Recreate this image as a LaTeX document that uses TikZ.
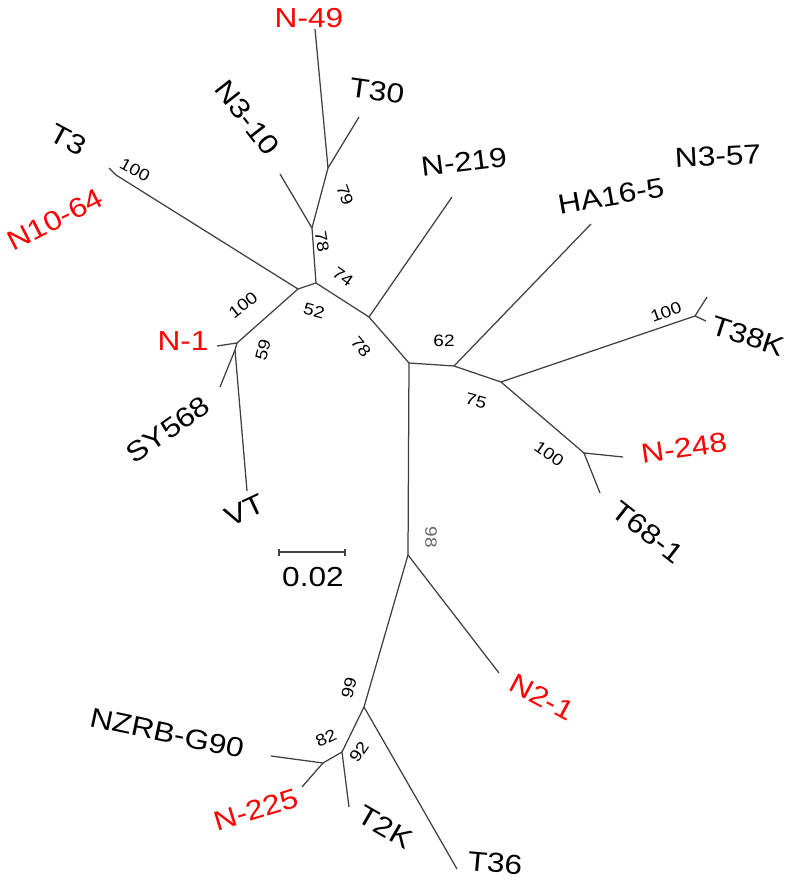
\documentclass[tikz,border=0pt]{standalone}
\usepackage{fontspec}
\setmainfont{Liberation Sans}
\newfontfamily\labfont[FakeStretch=1.15]{Liberation Sans}
\begin{document}
\begin{tikzpicture}[x=1pt,y=-1pt,
  br/.style={line width=1.25pt, draw=black!75},
  taxon/.style={font=\labfont\fontsize{27.5}{28}\selectfont, inner sep=0pt, anchor=center},
  redtaxon/.style={taxon, text=red},
  boot/.style={font=\labfont\fontsize{16.5}{17}\selectfont, inner sep=0pt, anchor=center}]
\useasboundingbox (0,0) rectangle (787,881);
% internal nodes
\coordinate (A) at (298,289);
\coordinate (B) at (316,283);
\coordinate (C) at (369,317);
\coordinate (D) at (409,363);
\coordinate (E) at (454,366);
\coordinate (F) at (501,382);
\coordinate (G) at (312,228);
\coordinate (H) at (328,168);
\coordinate (I) at (116,175);
\coordinate (J) at (237,343);
\coordinate (K) at (235,350);
\coordinate (L) at (695,316);
\coordinate (M) at (584,453);
\coordinate (P) at (408,555);
\coordinate (Q) at (364,707);
\coordinate (R) at (342,752);
\coordinate (S) at (323,763);
% tips
\coordinate (tN49) at (315,29);
\coordinate (tT30) at (359,117);
\coordinate (tN310) at (280,174);
\coordinate (tT3) at (109,168);
\coordinate (tN219) at (452,197);
\coordinate (tHA) at (591,224);
\coordinate (tN357) at (707,297);
\coordinate (tT38K) at (706,321);
\coordinate (tN248) at (623,457);
\coordinate (tT68) at (600,493);
\coordinate (tN21) at (499,673);
\coordinate (tT36) at (457,869);
\coordinate (tT2K) at (349,807);
\coordinate (tNZ) at (271,756);
\coordinate (tN225) at (302,787);
\coordinate (tN1) at (217,346);
\coordinate (tSY) at (220,387);
\coordinate (tVT) at (247,491);
% branches
\draw[br] (A) -- (B) -- (C) -- (D) -- (E) -- (F);
\draw[br] (C) -- (tN219);
\draw[br] (B) -- (G) -- (H) -- (tN49);
\draw[br] (H) -- (tT30);
\draw[br] (G) -- (tN310);
\draw[br] (A) -- (I) -- (tT3);
\draw[br] (A) -- (J) -- (tN1);
\draw[br] (J) -- (K) -- (tSY);
\draw[br] (K) -- (tVT);
\draw[br] (E) -- (tHA);
\draw[br] (F) -- (L) -- (tN357);
\draw[br] (L) -- (tT38K);
\draw[br] (F) -- (M) -- (tN248);
\draw[br] (M) -- (tT68);
\draw[br] (D) -- (P) -- (tN21);
\draw[br] (P) -- (Q) -- (tT36);
\draw[br] (Q) -- (R) -- (tT2K);
\draw[br] (R) -- (S) -- (tNZ);
\draw[br] (S) -- (tN225);
% taxon labels
\node[redtaxon] (lN49) at (309,18) {N-49};
\node[taxon, rotate=-8] (lT30) at (377,91) {T30};
\node[taxon, rotate=-52] (lN310) at (247,118) {N3-10};
\node[taxon, rotate=-28] (lT3) at (68,140) {T3};
\node[redtaxon, rotate=27] (lN1064) at (55,220) {N10-64};
\node[taxon, rotate=7] (lN219) at (464,162) {N-219};
\node[taxon, rotate=10] (lHA) at (611,196) {HA16-5};
\node[taxon, rotate=3] (lN357) at (718,156) {N3-57};
\node[taxon, rotate=-18] (lT38K) at (748,336) {T38K};
\node[redtaxon, rotate=8] (lN248) at (684,448) {N-248};
\node[taxon, rotate=-38] (lT68) at (648,532) {T68-1};
\node[redtaxon, rotate=-28] (lN21) at (542,697) {N2-1};
\node[taxon, rotate=-5] (lT36) at (495,863) {T36};
\node[taxon, rotate=-30] (lT2K) at (385,827) {T2K};
\node[redtaxon, rotate=17] (lN225) at (256,810) {N-225};
\node[taxon, rotate=-12] (lNZ) at (167,733) {NZRB-G90};
\node[taxon, rotate=25] (lVT) at (245,510) {VT};
\node[taxon, rotate=35] (lSY) at (168,430) {SY568};
\node[redtaxon] (lN1) at (183,341) {N-1};
% bootstrap values
\node[boot, rotate=-28] (b1) at (135,170) {100};
\node[boot, rotate=-70] (b2) at (345,195) {79};
\node[boot, rotate=-80] (b3) at (322,242) {78};
\node[boot, rotate=-35] (b4) at (343,277) {74};
\node[boot, rotate=-15] (b5) at (314,311) {52};
\node[boot, rotate=38] (b6) at (243,305) {100};
\node[boot, rotate=75] (b7) at (263,350) {59};
\node[boot, rotate=-50] (b8) at (361,347) {78};
\node[boot] (b9) at (444,341) {62};
\node[boot, rotate=-15] (b10) at (476,401) {75};
\node[boot, rotate=20] (b11) at (666,312) {100};
\node[boot, rotate=-35] (b12) at (549,454) {100};
\node[boot, rotate=-90, text=black!60] (b13) at (431,537) {98};
\node[boot, rotate=75] (b14) at (349,688) {99};
\node[boot, rotate=25] (b15) at (326,738) {82};
\node[boot, rotate=55] (b16) at (359,752) {92};
% scale bar
\coordinate (s1) at (279,552);
\coordinate (s2) at (345,552);
\draw[br] (s1) -- (s2);
\draw[br] ([yshift=-3.5pt]s1) -- ([yshift=3.5pt]s1);
\draw[br] ([yshift=-3.5pt]s2) -- ([yshift=3.5pt]s2);
\node[taxon] (scale) at (313,577) {0.02};
\end{tikzpicture}
\end{document}
